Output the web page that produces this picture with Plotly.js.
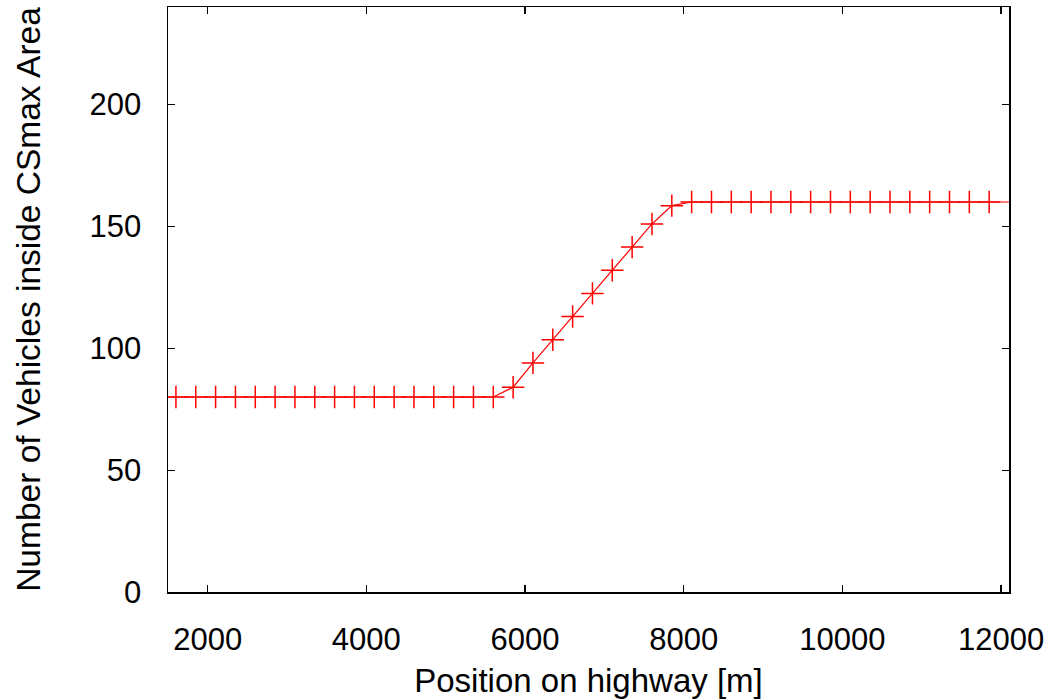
<!DOCTYPE html>
<html>
<head>
<meta charset="utf-8">
<script src="https://cdn.plot.ly/plotly-3.0.1.min.js"></script>
<style>html,body{margin:0;padding:0;background:#fff;}#chart{width:1062px;height:699px;}</style>
</head>
<body>
<div id="chart"></div>
<script>
// Position on highway [m]
const positions = [1350, 1600, 1850, 2100, 2350, 2600, 2850, 3100, 3350, 3600, 3850, 4100, 4350, 4600, 4850, 5100, 5350, 5600,
  5850, 6100, 6350, 6600, 6850, 7100, 7350, 7600, 7850,
  8100, 8350, 8600, 8850, 9100, 9350, 9600, 9850, 10100, 10350, 10600, 10850, 11100, 11350, 11600, 11850, 12350];
// Number of vehicles inside CSmax area
const vehicles = [80, 80, 80, 80, 80, 80, 80, 80, 80, 80, 80, 80, 80, 80, 80, 80, 80, 80,
  84, 94, 103.5, 113, 122.5, 132, 141.5, 151, 158.5,
  160, 160, 160, 160, 160, 160, 160, 160, 160, 160, 160, 160, 160, 160, 160, 160, 160];
const xTicks = [2000, 4000, 6000, 8000, 10000, 12000];
const yTicks = [0, 50, 100, 150, 200];
const xTitle = 'Position on highway [m]';
const yTitle = 'Number of Vehicles inside CSmax Area';

const FONT = 'Liberation Sans, Arial, sans-serif';

const trace = {
  x: positions, y: vehicles, type: 'scatter', mode: 'lines+markers',
  line: {color: '#ff0000', width: 1.2},
  marker: {symbol: 'cross-thin-open', size: 16, line: {color: '#ff0000', width: 1.5}, color: '#ff0000'},
  cliponaxis: true, showlegend: false, hoverinfo: 'x+y'
};

const axisBase = {
  showline: true, linecolor: '#000', linewidth: 1.5, mirror: 'ticks',
  ticks: 'inside', ticklen: 7, tickwidth: 1.2, tickcolor: '#000',
  showgrid: false, zeroline: false,
  tickfont: {family: FONT, size: 31, color: '#000'}
};

const layout = {
  width: 1062, height: 699,
  margin: {l: 168, r: 53, t: 7, b: 107},
  paper_bgcolor: '#fff', plot_bgcolor: '#fff',
  xaxis: Object.assign({}, axisBase, {
    range: [1500, 12100], tickmode: 'array', tickvals: xTicks, ticktext: xTicks.map(String),
    ticklabelstandoff: 19,
    title: {text: xTitle, font: {family: FONT, size: 33, color: '#000'}, standoff: 29}
  }),
  yaxis: Object.assign({}, axisBase, {
    range: [0, 240], tickmode: 'array', tickvals: yTicks, ticktext: yTicks.map(String),
    ticklabelstandoff: 19,
    title: {text: yTitle, font: {family: FONT, size: 33.5, color: '#000'}, standoff: 39}
  })
};

Plotly.newPlot('chart', [trace], layout, {displayModeBar: false, staticPlot: true});
</script>
</body>
</html>
